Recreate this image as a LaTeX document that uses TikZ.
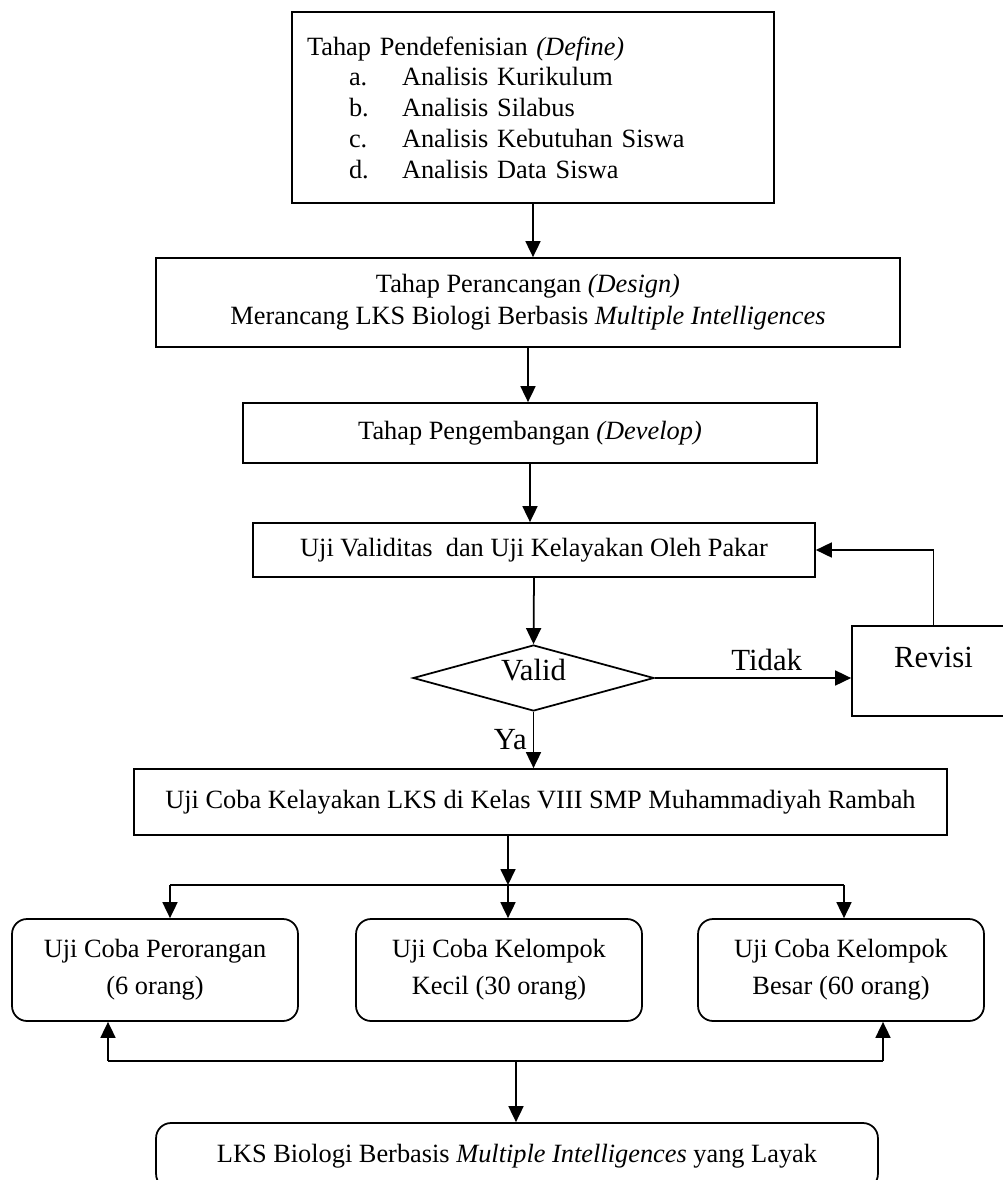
\documentclass[tikz,border=0pt]{standalone}
\usepackage{fontspec}
\setmainfont{Liberation Serif}
\usepackage{tikz}
\usetikzlibrary{arrows.meta}
\usetikzlibrary{shapes.geometric}
\usetikzlibrary{positioning}
\tikzset{>={Triangle[length=0.32cm, width=0.3cm]},
         box/.style = {draw, line width=1pt, inner sep=0pt, align=center},
         rbox/.style = {box, rounded corners=0.3cm,
                        font=\fontsize{15pt}{21pt}\selectfont},
         big/.style = {font=\fontsize{17.5pt}{21pt}\selectfont}}

\begin{document}
\begin{tikzpicture}[x=0.02cm, y=-0.02cm, line width=1pt,
                    font=\fontsize{15pt}{18pt}\selectfont]
    \useasboundingbox (0, 0) rectangle (1003, 1180);
    \clip (0, 0) rectangle (1003, 1180);

    \node [box, align=left, inner xsep=0.3cm, text width=9.04cm,
           minimum width=9.64cm, minimum height=3.82cm] (define) at (533, 107.5)
      {Tahap Pendefenisian \textit{(Define)}\\[-0.5pt]
       \hspace*{0.84cm}\makebox[1.06cm][l]{a.}Analisis Kurikulum\\[-0.5pt]
       \hspace*{0.84cm}\makebox[1.06cm][l]{b.}Analisis Silabus\\[-0.5pt]
       \hspace*{0.84cm}\makebox[1.06cm][l]{c.}Analisis Kebutuhan Siswa\\[-0.5pt]
       \hspace*{0.84cm}\makebox[1.06cm][l]{d.}Analisis Data Siswa};
    \node [box, minimum width=14.88cm, minimum height=1.78cm] (design) at (528, 302.5)
      {Tahap Perancangan \textit{(Design)}\\
       Merancang LKS Biologi Berbasis \textit{Multiple Intelligences}};
    \node [box, minimum width=11.48cm, minimum height=1.2cm] (develop) at (530, 433)
      {Tahap Pengembangan \textit{(Develop)}};
    \node [box, minimum width=11.24cm, minimum height=1.08cm] (validasi) at (534, 550)
      {Uji Validitas \ dan Uji Kelayakan Oleh Pakar};
    \node [draw, diamond, inner sep=0pt, aspect=3.6, minimum width=4.82cm,
           minimum height=1.32cm, label={[big, yshift=0.16cm]center:Valid}] (valid) at (533.5, 678) {};
    \node [box, minimum width=3.26cm, minimum height=1.8cm,
           label={[big, yshift=0.28cm]center:Revisi}] (revisi) at (933.5, 671) {};
    \node [box, minimum width=16.26cm, minimum height=1.32cm] (ujicoba) at (540.5, 802)
      {Uji Coba Kelayakan LKS di Kelas VIII SMP Muhammadiyah Rambah};

    % tiga uji coba
    \node [rbox, minimum width=5.72cm, minimum height=2.04cm] (perorangan) at (155, 970)
      {Uji Coba Perorangan\\(6 orang)};
    \node [rbox, minimum width=5.72cm, minimum height=2.04cm] (kecil) at (499, 970)
      {Uji Coba Kelompok\\Kecil (30 orang)};
    \node [rbox, minimum width=5.72cm, minimum height=2.04cm] (besar) at (841, 970)
      {Uji Coba Kelompok\\Besar (60 orang)};
    \node [box, rounded corners=0.3cm, minimum width=14.44cm, minimum height=1.32cm] (layak) at (517, 1156)
      {LKS Biologi Berbasis \textit{Multiple Intelligences} yang Layak};

    \draw [->] (define.south) -- (define.south |- design.north);
    \draw [->] (design.south) -- (design.south |- develop.north);
    \draw [->] (develop.south) -- (develop.south |- validasi.north);
    \draw [->] (validasi.south) -- (valid.north);
    \draw [->] (valid.east) -- node [big, above, pos=0.57] {Tidak} (valid.east -| revisi.west);
    \draw [->] (revisi.north) |- (validasi.east);
    \draw [->] (valid.south) -- node [big, left] {Ya} (valid.south |- ujicoba.north);

    \coordinate (split) at (508, 885);
    \coordinate (splitl) at (170, 885);
    \coordinate (splitr) at (844, 885);
    \draw [->] (ujicoba.south -| split) -- (split);
    \draw (splitl) -- (splitr);
    \draw [->] (splitl) -- (splitl |- perorangan.north);
    \draw [->] (split) -- (split |- kecil.north);
    \draw [->] (splitr) -- (splitr |- besar.north);

    \coordinate (joinl) at (108, 1061);
    \coordinate (joinm) at (516, 1061);
    \coordinate (joinr) at (883, 1061);
    \draw (joinl) -- (joinr);
    \draw [->] (joinl) -- (joinl |- perorangan.south);
    \draw [->] (joinr) -- (joinr |- besar.south);
    \draw [->] (joinm) -- (joinm |- layak.north); % hasil akhir
  \end{tikzpicture}
\end{document}
